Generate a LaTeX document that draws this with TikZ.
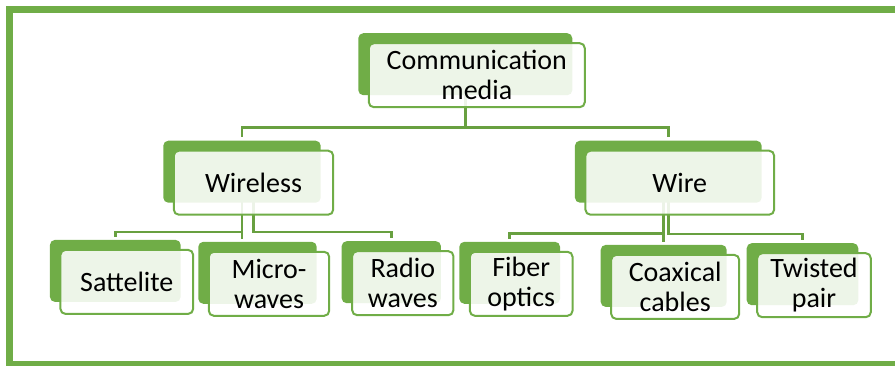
\documentclass[tikz,border=0pt]{standalone}
\usepackage{fontspec}
\setmainfont{Carlito}
\usetikzlibrary{backgrounds}
\definecolor{leaf}{RGB}{112,173,71}
\definecolor{stem}{RGB}{104,160,64}

% a solid green card with a lighter, framed card laid over it
\newcommand\cardpair[5]{%
  \node[backbox, minimum width={#4*1pt}] (#1b) at (#2,#3) {};
  \node[frontbox, minimum width={(#4+2)*1pt}] (#1) at (#2+11.5,#3+11) {#5};
}

\begin{document}
\begin{tikzpicture}[x=1pt,y=-1pt,
  backbox/.style={draw=none, fill=leaf, rounded corners=5pt,
    minimum height=62pt, inner sep=0pt},
  frontbox/.style={draw=leaf, line width=2pt, fill=white, fill opacity=0.88,
    text opacity=1, rounded corners=5pt, minimum height=64pt, inner sep=0pt,
    align=center, text=black, font=\fontsize{28}{30}\selectfont},
  conn/.style={draw=stem, line width=2.7pt, shorten >=3pt}]

\useasboundingbox (0,0) rectangle (895,366);

% cards
\cardpair{com}{465.3}{64.2}{214}{Communication\\media}
\cardpair{wl}{242}{171.7}{157.4}{Wireless}
\cardpair{wr}{668.3}{171.7}{186.7}{Wire}
\cardpair{sat}{115.3}{270.9}{130.7}{Sattelite}
\cardpair{mw}{257.5}{272.8}{118.4}{Micro-\\waves}
\cardpair{rw}{391.3}{272.2}{99.3}{Radio\\waves}
\cardpair{fo}{509.7}{272.8}{100.7}{Fiber\\optics}
\cardpair{cx}{663.7}{275.9}{126}{Coaxical\\cables}
\cardpair{tp}{802.5}{274.2}{111.6}{Twisted\\pair}

% heights of the horizontal runs
\coordinate (busT) at (0,127.7);
\coordinate (busL) at (0,232);
\coordinate (busR) at (0,233.3);
\coordinate (busR2) at (0,234);

\begin{scope}[on background layer]
  % outer frame
  \draw[leaf, line width=6.5pt] (9.7,9.7) rectangle (899,364.3);
  % connectors
  \draw[conn] (comb.center) -- (comb.center |- busT) -| (wlb.north);
  \draw[conn] (comb.center) -- (comb.center |- busT) -| (wrb.north);
  \draw[conn] (wlb.center) -- (wlb.center |- busL) -| (satb.north);
  \draw[conn] (wlb.center) -- (wlb.center |- mwb.north);
  \draw[conn] (wl.center) -- (wl.center |- busL) -| (rwb.north);
  \draw[conn] (cxb.north |- wrb.center) -- (cxb.north);
  \draw[conn] (cxb.north |- wrb.center) -- (cxb.north |- busR) -| (fob.north);
  \draw[conn] (wrb.center) -- (wrb.center |- busR2) -| (tpb.north);
\end{scope}
\end{tikzpicture}
\end{document}
